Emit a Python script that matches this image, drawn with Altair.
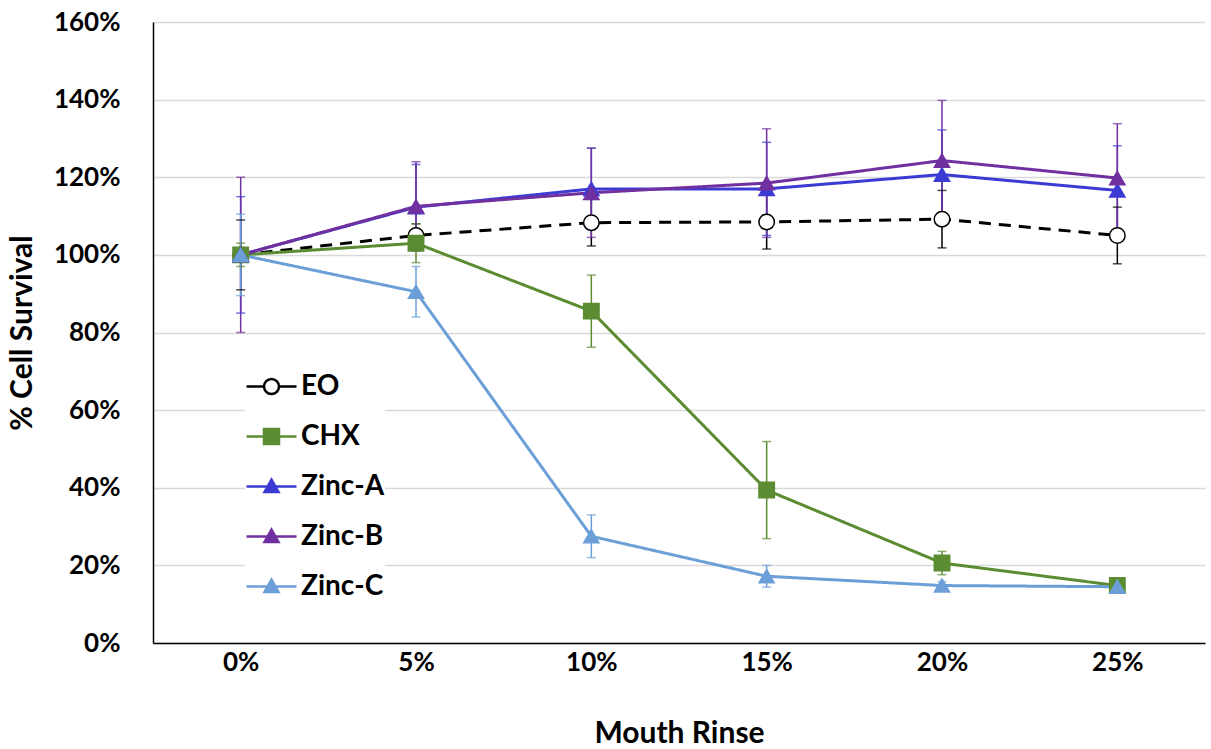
import altair as alt
import pandas as pd

doses = ["0%", "5%", "10%", "15%", "20%", "25%"]
series = ["EO", "CHX", "Zinc-A", "Zinc-B", "Zinc-C"]

eo = [1.00, 1.05, 1.083, 1.085, 1.092, 1.05]
eo_err = [0.09, 0.03, 0.06, 0.07, 0.074, 0.073]
chx = [1.00, 1.03, 0.855, 0.394, 0.206, 0.148]
chx_err = [0.03, 0.05, 0.093, 0.125, 0.03, 0.01]
zinc_a = [1.00, 1.123, 1.17, 1.17, 1.207, 1.166]
zinc_a_err = [0.15, 0.11, 0.105, 0.12, 0.115, 0.115]
zinc_b = [1.00, 1.125, 1.16, 1.185, 1.243, 1.198]
zinc_b_err = [0.20, 0.115, 0.115, 0.14, 0.155, 0.14]
zinc_c = [1.00, 0.905, 0.275, 0.172, 0.148, 0.145]
zinc_c_err = [0.105, 0.065, 0.055, 0.028, 0.01, 0.01]

colors = ["#000000", "#5b8c32", "#3b3bd4", "#7030a0", "#6c9fd8"]
fills = ["#ffffff", "#5b8c32", "#3b3bd4", "#7030a0", "#6c9fd8"]
shapes = ["circle", "square", "triangle-up", "triangle-up", "triangle-up"]
sizes = [240, 230, 170, 170, 170]
dashes = [[12, 8], [1, 0], [1, 0], [1, 0], [1, 0]]
legend_paths = [
    "M-1,0H-0.3M0.3,0H1M-0.3,0A0.3,0.3,0,1,1,0.3,0A0.3,0.3,0,1,1,-0.3,0Z",
    "M-1,0H1M-0.3,-0.3H0.3V0.3H-0.3Z",
    "M-1,0H1M0,-0.28L0.28,0.22H-0.28Z",
    "M-1,0H1M0,-0.28L0.28,0.22H-0.28Z",
    "M-1,0H1M0,-0.28L0.28,0.22H-0.28Z",
]

vals = [eo, chx, zinc_a, zinc_b, zinc_c]
errs = [eo_err, chx_err, zinc_a_err, zinc_b_err, zinc_c_err]
rows = []
for s, v, e in zip(series, vals, errs):
    for d, vv, ee in zip(doses, v, e):
        rows.append({"series": s, "series2": s, "dose": d, "value": vv,
                     "lo": vv - ee, "hi": vv + ee})
df = pd.DataFrame(rows)
leg_df = pd.DataFrame({"label": series, "dose": ["0%"] * 5, "value": [1.0] * 5})

FONT = "Lato"
stroke_scale = alt.Scale(domain=series, range=colors)
fill_scale = alt.Scale(domain=series, range=fills)

x_enc = alt.X("dose:O", sort=doses, scale=alt.Scale(type="point", padding=0.5),
              axis=alt.Axis(title="Mouth Rinse", labelAngle=0, ticks=False, grid=False,
                            domainColor="#000000", domainWidth=1.5,
                            labelFont=FONT, labelFontSize=26, labelFontWeight="bold",
                            labelColor="#000000", labelPadding=6,
                            titleFont=FONT, titleFontSize=30, titleFontWeight="bold",
                            titleColor="#000000", titlePadding=43))
y_axis = alt.Axis(title="% Cell Survival", format=".0%",
                  values=[0, 0.2, 0.4, 0.6, 0.8, 1.0, 1.2, 1.4, 1.6],
                  ticks=False, domainColor="#000000", domainWidth=1.5,
                  gridColor="#d9d9d9", gridWidth=1.5,
                  labelFont=FONT, labelFontSize=26, labelFontWeight="bold",
                  labelColor="#000000", labelPadding=33,
                  titleFont=FONT, titleFontSize=30, titleFontWeight="bold",
                  titleColor="#000000", titlePadding=16)
y_scale = alt.Scale(domain=[0, 1.6], nice=False)

base = alt.Chart(df)

err_rule = base.mark_rule(strokeWidth=1.5).encode(
    x=x_enc,
    y=alt.Y("lo:Q", scale=y_scale, axis=y_axis),
    y2="hi:Q",
    stroke=alt.Stroke("series:N", scale=stroke_scale, legend=None),
)
cap_lo = base.mark_tick(thickness=1.5, size=9).encode(
    x=x_enc, y=alt.Y("lo:Q", scale=y_scale, axis=y_axis),
    color=alt.Color("series:N", scale=stroke_scale, legend=None),
)
cap_hi = base.mark_tick(thickness=1.5, size=9).encode(
    x=x_enc, y=alt.Y("hi:Q", scale=y_scale, axis=y_axis),
    color=alt.Color("series:N", scale=stroke_scale, legend=None),
)
lines = base.mark_line(strokeWidth=3).encode(
    x=x_enc,
    y=alt.Y("value:Q", scale=y_scale, axis=y_axis),
    stroke=alt.Stroke("series:N", scale=stroke_scale, legend=None),
    strokeDash=alt.StrokeDash("series:N", scale=alt.Scale(domain=series, range=dashes), legend=None),
    detail="series:N",
)
points = base.mark_point(strokeWidth=1.5, opacity=1).encode(
    x=x_enc,
    y=alt.Y("value:Q", scale=y_scale, axis=y_axis),
    shape=alt.Shape("series2:N", scale=alt.Scale(domain=series, range=shapes), legend=None),
    stroke=alt.Stroke("series:N", scale=stroke_scale, legend=None),
    fill=alt.Fill("series:N", scale=fill_scale, legend=None),
    size=alt.Size("series:N", scale=alt.Scale(domain=series, range=sizes), legend=None),
)

leg = alt.Legend(title=None, orient="none", legendX=92, legendY=338,
                 symbolSize=2500, symbolStrokeWidth=2.5, symbolOpacity=1,
                 labelFont=FONT, labelFontSize=28, labelFontWeight="bold",
                 labelColor="#000000", labelOffset=3, rowPadding=9,
                 fillColor="#ffffff", padding=0)
legend_layer = alt.Chart(leg_df).mark_point(opacity=0).encode(
    x=x_enc,
    y=alt.Y("value:Q", scale=y_scale, axis=y_axis),
    shape=alt.Shape("label:N", scale=alt.Scale(domain=series, range=legend_paths), legend=leg),
    stroke=alt.Stroke("label:N", scale=alt.Scale(domain=series, range=colors), legend=leg),
    fill=alt.Fill("label:N", scale=alt.Scale(domain=series, range=fills), legend=leg),
)

chart = alt.layer(err_rule, cap_lo, cap_hi, lines, points, legend_layer).resolve_scale(
    stroke="independent", fill="independent", shape="independent", color="independent"
).properties(
    width=1052, height=621,
    autosize=alt.AutoSizeParams(type="none"),
    padding={"left": 153, "top": 22, "right": 6, "bottom": 106},
    background="#ffffff",
).configure_view(stroke=None)

chart.save("out.html", embed_options={"renderer": "svg", "actions": False})
